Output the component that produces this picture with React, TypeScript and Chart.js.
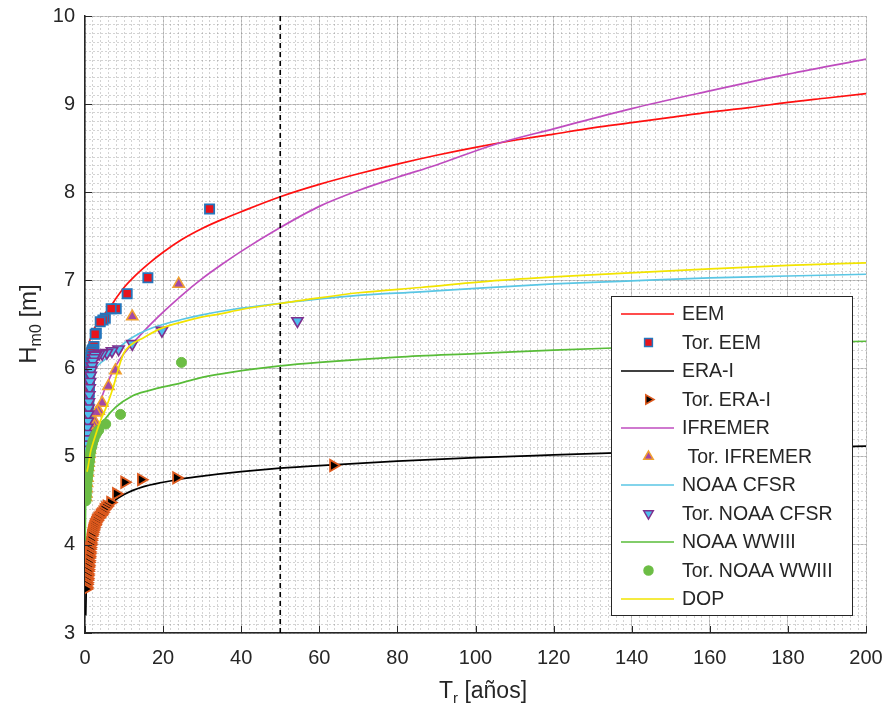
import React, { useEffect, useRef } from 'react';
import { Chart, registerables } from 'chart.js';

Chart.register(...registerables);

// ---------- tick labels ----------
const xTicks = [0, 20, 40, 60, 80, 100, 120, 140, 160, 180, 200];
const yTicks = [3, 4, 5, 6, 7, 8, 9, 10];
const xMinorStep = 2;
const yMinorStep = 0.1;
const markT = 50;

// ---------- EEM ----------
const eemLineT = [0.6, 1, 1.5, 2, 3, 4, 5, 6.5, 8, 10, 13, 16, 20, 25, 30, 35, 40, 50, 60, 70, 80, 90, 100, 110, 120, 130, 140, 150, 160, 170, 180, 190, 200];
const eemLineH = [6.0, 6.27, 6.35, 6.42, 6.5, 6.56, 6.62, 6.7, 6.8, 6.92, 7.06, 7.18, 7.32, 7.47, 7.59, 7.69, 7.78, 7.95, 8.09, 8.21, 8.32, 8.42, 8.51, 8.59, 8.66, 8.73, 8.79, 8.85, 8.91, 8.96, 9.02, 9.07, 9.12];
const eemPtsT = [31.9, 16.1, 10.8, 8.0, 6.7, 5.2, 4.6, 3.9, 2.9, 2.6, 2.3, 2.1, 1.9, 1.8, 1.7, 1.6, 1.5, 1.4, 1.35, 1.3, 1.2, 1.15, 1.1, 1.05, 1.0, 0.95, 0.9, 0.85, 0.8, 0.75, 0.7, 0.65, 0.6, 0.55, 0.5, 0.45];
const eemPtsH = [7.81, 7.03, 6.85, 6.68, 6.68, 6.57, 6.55, 6.53, 6.40, 6.39, 6.25, 6.22, 6.21, 6.2, 6.18, 6.15, 6.12, 6.08, 6.03, 5.98, 5.92, 5.85, 5.8, 5.74, 5.68, 5.62, 5.57, 5.5, 5.45, 5.4, 5.35, 5.3, 5.25, 5.2, 5.15, 5.1];

// ---------- ERA-I ----------
const eraLineT = [0.2, 0.3, 0.5, 0.8, 1.2, 2, 3, 4, 5, 7, 10, 15, 20, 25, 30, 40, 50, 60, 80, 100, 120, 140, 160, 180, 200];
const eraLineH = [3.2, 3.45, 3.65, 3.82, 3.96, 4.12, 4.24, 4.32, 4.38, 4.48, 4.57, 4.66, 4.71, 4.75, 4.78, 4.83, 4.87, 4.9, 4.95, 4.99, 5.02, 5.05, 5.08, 5.1, 5.12];
const eraPtsT = [63.6, 23.4, 14.4, 10.1, 8.0, 6.5, 5.6, 5.2, 4.8, 4.5, 4.2, 4.0, 3.8, 3.5, 3.2, 3.0, 2.8, 2.6, 2.45, 2.3, 2.15, 2.0, 1.9, 1.8, 1.7, 1.6, 1.5, 1.45, 1.35, 1.3, 1.2, 1.15, 1.1, 1.05, 1.0, 0.95, 0.9, 0.85, 0.8, 0.75, 0.7, 0.65, 0.6, 0.55, 0.5, 0.45, 0.4, 0.35, 0.3, 0.25];
const eraPtsH = [4.9, 4.76, 4.74, 4.71, 4.58, 4.48, 4.44, 4.42, 4.4, 4.37, 4.35, 4.34, 4.33, 4.31, 4.3, 4.28, 4.27, 4.25, 4.23, 4.22, 4.2, 4.18, 4.16, 4.14, 4.12, 4.1, 4.07, 4.05, 4.02, 4.0, 3.97, 3.95, 3.92, 3.9, 3.87, 3.85, 3.82, 3.8, 3.77, 3.75, 3.72, 3.7, 3.67, 3.65, 3.62, 3.6, 3.57, 3.55, 3.52, 3.5];

// ---------- IFREMER ----------
const ifrLineT = [0.3, 0.5, 1, 2, 3, 4, 5, 6.4, 8, 10, 15, 20, 25, 30, 35, 40, 50, 60, 70, 80, 90, 104.7, 120, 140, 160, 180, 200];
const ifrLineH = [4.98, 5.08, 5.2, 5.38, 5.52, 5.64, 5.76, 5.9, 6.04, 6.17, 6.42, 6.64, 6.84, 7.02, 7.18, 7.33, 7.6, 7.84, 8.02, 8.17, 8.31, 8.54, 8.72, 8.95, 9.15, 9.34, 9.51];
const ifrPtsT = [24.0, 12.1, 7.8, 6.0, 4.4, 3.5, 2.9, 2.6, 2.4, 2.2, 2.0, 1.8, 1.6, 1.4, 1.25, 1.1, 1.0, 0.9, 0.8, 0.7, 0.6, 0.5, 0.4, 0.3, 0.2];
const ifrPtsH = [6.96, 6.59, 5.98, 5.8, 5.61, 5.52, 5.5, 5.39, 5.35, 5.3, 5.26, 5.22, 5.18, 5.13, 5.08, 5.03, 4.98, 4.93, 4.88, 4.82, 4.76, 4.7, 4.64, 4.58, 4.54];

// ---------- NOAA CFSR ----------
const cfsLineT = [2, 3, 5, 7, 9, 12, 16, 20, 25, 30, 37.7, 50, 60, 70, 85.9, 100, 120, 137, 160, 180, 200];
const cfsLineH = [5.95, 6.02, 6.1, 6.17, 6.25, 6.35, 6.44, 6.5, 6.56, 6.61, 6.67, 6.74, 6.79, 6.83, 6.87, 6.91, 6.96, 6.99, 7.03, 7.05, 7.07];
const cfsPtsT = [54.4, 19.7, 12.1, 8.6, 6.9, 5.6, 4.4, 3.6, 2.9, 2.6, 2.3, 2.0, 1.8, 1.6, 1.45, 1.3, 1.2, 1.1, 1.0, 0.9, 0.8, 0.7, 0.6, 0.5, 0.4, 0.3, 0.2];
const cfsPtsH = [6.54, 6.43, 6.28, 6.22, 6.2, 6.18, 6.17, 6.17, 6.16, 6.15, 6.12, 6.08, 6.03, 5.98, 5.92, 5.85, 5.78, 5.7, 5.62, 5.55, 5.48, 5.4, 5.33, 5.26, 5.2, 5.14, 5.08];

// ---------- NOAA WWIII ----------
const wwLineT = [0.05, 0.2, 0.4, 0.7, 1.0, 1.8, 3.5, 5.2, 7.8, 12.1, 16.3, 24.9, 30, 37.7, 50, 60, 80, 100, 120, 140, 160, 180, 200];
const wwLineH = [4.05, 4.6, 4.85, 5.0, 5.07, 5.16, 5.31, 5.43, 5.56, 5.69, 5.75, 5.84, 5.9, 5.96, 6.03, 6.07, 6.13, 6.17, 6.21, 6.24, 6.27, 6.29, 6.31];
const wwPtsT = [24.7, 9.1, 5.3, 3.5, 3.0, 2.6, 2.3, 2.0, 1.8, 1.6, 1.45, 1.3, 1.2, 1.1, 1.0, 0.9, 0.8, 0.7, 0.6, 0.5, 0.45, 0.4, 0.35, 0.3, 0.25];
const wwPtsH = [6.07, 5.48, 5.37, 5.3, 5.27, 5.24, 5.2, 5.17, 5.13, 5.1, 5.06, 5.02, 4.98, 4.94, 4.9, 4.86, 4.82, 4.78, 4.74, 4.7, 4.66, 4.62, 4.58, 4.54, 4.5];

// ---------- DOP ----------
const dopLineT = [0.5, 0.85, 1.4, 2.1, 3.8, 5.6, 7.3, 8.5, 9.5, 10, 11.5, 15, 19.2, 25, 29.5, 34.6, 40, 50, 55, 70, 85.9, 106, 120, 137, 160, 180, 200];
const dopLineH = [4.83, 4.9, 5.05, 5.16, 5.39, 5.58, 5.8, 5.99, 6.13, 6.18, 6.26, 6.35, 6.45, 6.53, 6.58, 6.62, 6.67, 6.74, 6.77, 6.86, 6.92, 7.0, 7.04, 7.08, 7.13, 7.17, 7.2];

const FONT = "'Liberation Sans', Arial, Helvetica, sans-serif";
const TEXT = '#262626';

const C = {
  red: '#ff1010',
  sqFill: '#e8141c',
  sqEdge: '#2476bd',
  black: '#000000',
  orange: '#dd5a1e',
  purple: '#bf4cbf',
  purpleFill: '#a248a6',
  triEdge: '#f0a030',
  cyan: '#5ac6e4',
  cyanFill: '#4dbeee',
  cfsEdge: '#7e2f8e',
  green: '#58bc38',
  greenPt: '#6cbd45',
  yellow: '#f2e400',
};

type LegendItem = { label: string; kind: 'line' | 'rect' | 'triR' | 'triU' | 'triD' | 'circle'; stroke: string; fill?: string };
const legendItems: LegendItem[] = [
  { label: 'EEM', kind: 'line', stroke: C.red },
  { label: 'Tor. EEM', kind: 'rect', stroke: C.sqEdge, fill: C.sqFill },
  { label: 'ERA-I', kind: 'line', stroke: C.black },
  { label: 'Tor. ERA-I', kind: 'triR', stroke: C.orange, fill: '#000000' },
  { label: 'IFREMER', kind: 'line', stroke: C.purple },
  { label: ' Tor. IFREMER', kind: 'triU', stroke: C.triEdge, fill: C.purpleFill },
  { label: 'NOAA CFSR', kind: 'line', stroke: C.cyan },
  { label: 'Tor. NOAA CFSR', kind: 'triD', stroke: C.cfsEdge, fill: C.cyanFill },
  { label: 'NOAA WWIII', kind: 'line', stroke: C.green },
  { label: 'Tor. NOAA WWIII', kind: 'circle', stroke: C.greenPt, fill: C.greenPt },
  { label: 'DOP', kind: 'line', stroke: C.yellow },
];

const toXY = (t: number[], h: number[]) => t.map((v, i) => ({ x: v, y: h[i] }));

function lineDs(label: string, t: number[], h: number[], color: string, order: number) {
  return {
    label,
    data: toXY(t, h),
    showLine: true,
    borderColor: color,
    backgroundColor: color,
    borderWidth: 1.7,
    pointRadius: 0,
    fill: false,
    cubicInterpolationMode: 'monotone' as const,
    order,
  };
}

function ptsDs(label: string, t: number[], h: number[], style: string, rot: number, fill: string, edge: string, r: number, bw: number, order: number) {
  return {
    label,
    data: toXY(t, h),
    showLine: false,
    pointStyle: style,
    pointRotation: rot,
    pointRadius: r,
    pointBackgroundColor: fill,
    pointBorderColor: edge,
    pointBorderWidth: bw,
    backgroundColor: fill,
    borderColor: edge,
    order,
  };
}

function drawRich(ctx: CanvasRenderingContext2D, parts: { text: string; size: number; dy: number }[], cx: number, cy: number, rotate: boolean) {
  ctx.save();
  ctx.translate(cx, cy);
  if (rotate) ctx.rotate(-Math.PI / 2);
  let total = 0;
  const widths: number[] = [];
  parts.forEach((p) => {
    ctx.font = `${p.size}px ${FONT}`;
    const w = ctx.measureText(p.text).width;
    widths.push(w);
    total += w;
  });
  let x = -total / 2;
  ctx.fillStyle = TEXT;
  ctx.textAlign = 'left';
  ctx.textBaseline = 'alphabetic';
  parts.forEach((p, i) => {
    ctx.font = `${p.size}px ${FONT}`;
    ctx.fillText(p.text, x, p.dy);
    x += widths[i];
  });
  ctx.restore();
}

function drawMarker(ctx: CanvasRenderingContext2D, kind: string, x: number, y: number, r: number, fill: string, stroke: string) {
  ctx.beginPath();
  if (kind === 'rect') {
    const s = r * Math.SQRT1_2;
    ctx.rect(x - s, y - s, 2 * s, 2 * s);
  } else if (kind === 'circle') {
    ctx.arc(x, y, r, 0, Math.PI * 2);
  } else {
    const base = kind === 'triU' ? 0 : kind === 'triR' ? Math.PI / 2 : Math.PI;
    for (let k = 0; k < 3; k++) {
      const a = base + (k * 2 * Math.PI) / 3;
      const px = x + Math.sin(a) * r;
      const py = y - Math.cos(a) * r;
      if (k === 0) ctx.moveTo(px, py);
      else ctx.lineTo(px, py);
    }
    ctx.closePath();
  }
  ctx.fillStyle = fill;
  ctx.fill();
  ctx.lineWidth = 1.5;
  ctx.strokeStyle = stroke;
  ctx.stroke();
}

const overlayPlugin = {
  id: 'overlayPlugin',
  afterDraw(chart: any) {
    const { ctx, chartArea, scales } = chart;
    const xs = scales.x;
    const ys = scales.y;
    ctx.save();
    // inward tick marks
    ctx.strokeStyle = TEXT;
    ctx.lineWidth = 1;
    ctx.beginPath();
    xTicks.forEach((v) => {
      const px = Math.round(xs.getPixelForValue(v)) + 0.5;
      ctx.moveTo(px, chartArea.bottom);
      ctx.lineTo(px, chartArea.bottom - 7);
    });
    yTicks.forEach((v) => {
      const py = Math.round(ys.getPixelForValue(v)) + 0.5;
      ctx.moveTo(chartArea.left, py);
      ctx.lineTo(chartArea.left + 7, py);
    });
    ctx.stroke();

    // axis titles
    drawRich(ctx, [
      { text: 'T', size: 23, dy: 0 },
      { text: 'r', size: 15, dy: 5 },
      { text: ' [años]', size: 23, dy: 0 },
    ], 483, 698, false);
    drawRich(ctx, [
      { text: 'H', size: 24, dy: 0 },
      { text: 'm0', size: 16, dy: 5 },
      { text: ' [m]', size: 24, dy: 0 },
    ], 36, 324, true);

    // legend
    const bx = chartArea.right - 255;
    const by = chartArea.top + 280;
    const bw = 241;
    const bh = 319;
    ctx.fillStyle = '#ffffff';
    ctx.fillRect(bx, by, bw, bh);
    ctx.strokeStyle = TEXT;
    ctx.lineWidth = 1;
    ctx.strokeRect(Math.round(bx) + 0.5, Math.round(by) + 0.5, bw, bh);
    ctx.font = `19.5px ${FONT}`;
    ctx.textBaseline = 'middle';
    ctx.textAlign = 'left';
    legendItems.forEach((it, i) => {
      const cy = by + 18 + i * 28.5;
      if (it.kind === 'line') {
        ctx.strokeStyle = it.stroke;
        ctx.lineWidth = 1.7;
        ctx.beginPath();
        ctx.moveTo(bx + 10, cy);
        ctx.lineTo(bx + 63, cy);
        ctx.stroke();
      } else {
        drawMarker(ctx, it.kind, bx + 37.5, cy, it.kind === 'circle' ? 4.5 : 5.5, it.fill || it.stroke, it.stroke);
      }
      ctx.fillStyle = TEXT;
      ctx.fillText(it.label, bx + 71, cy + 1);
    });
    ctx.restore();
  },
};

const noPadX = (h: number) => (s: any) => { s.height = h; s.paddingLeft = 0; s.paddingRight = 0; };
const noPadY = (w: number) => (s: any) => { s.width = w; s.paddingTop = 0; s.paddingBottom = 0; };

export default function App() {
  const ref = useRef<HTMLCanvasElement | null>(null);

  useEffect(() => {
    if (!ref.current) return;
    const datasets: any[] = [
      lineDs('EEM', eemLineT, eemLineH, C.red, 22),
      ptsDs('Tor. EEM', eemPtsT, eemPtsH, 'rect', 0, C.sqFill, C.sqEdge, 6.5, 1.8, 21),
      lineDs('ERA-I', eraLineT, eraLineH, C.black, 20),
      ptsDs('Tor. ERA-I', eraPtsT, eraPtsH, 'triangle', 90, '#000000', C.orange, 6.5, 1.8, 19),
      lineDs('IFREMER', ifrLineT, ifrLineH, C.purple, 18),
      ptsDs(' Tor. IFREMER', ifrPtsT, ifrPtsH, 'triangle', 0, C.purpleFill, C.triEdge, 6.5, 1.6, 17),
      lineDs('NOAA CFSR', cfsLineT, cfsLineH, C.cyan, 16),
      ptsDs('Tor. NOAA CFSR', cfsPtsT, cfsPtsH, 'triangle', 180, C.cyanFill, C.cfsEdge, 6.5, 1.6, 15),
      lineDs('NOAA WWIII', wwLineT, wwLineH, C.green, 14),
      ptsDs('Tor. NOAA WWIII', wwPtsT, wwPtsH, 'circle', 0, C.greenPt, C.greenPt, 5, 1, 13),
      lineDs('DOP', dopLineT, dopLineH, C.yellow, 12),
      {
        label: 'Tr = 50',
        data: [{ x: markT, y: yTicks[0] }, { x: markT, y: yTicks[yTicks.length - 1] }],
        showLine: true,
        borderColor: '#000000',
        borderWidth: 1.6,
        borderDash: [5, 4],
        pointRadius: 0,
        order: 1,
      },
    ];

    const chart = new Chart(ref.current, {
      type: 'scatter',
      data: { datasets },
      options: {
        animation: false,
        responsive: true,
        maintainAspectRatio: false,
        layout: { padding: { top: 16, right: 24, left: 0, bottom: 0 } },
        plugins: { legend: { display: false }, tooltip: { enabled: false } },
        scales: {
          xMinor: {
            type: 'linear',
            position: 'bottom',
            min: xTicks[0],
            max: xTicks[xTicks.length - 1],
            ticks: { display: false, stepSize: xMinorStep, autoSkip: false },
            grid: { color: 'rgba(110,110,110,0.3)', lineWidth: 1, drawTicks: false },
            border: { display: false, dash: [2, 2] },
            afterFit: noPadX(0),
          },
          yMinor: {
            type: 'linear',
            position: 'left',
            min: yTicks[0],
            max: yTicks[yTicks.length - 1],
            ticks: { display: false, stepSize: yMinorStep, autoSkip: false },
            grid: { color: 'rgba(110,110,110,0.3)', lineWidth: 1, drawTicks: false },
            border: { display: false, dash: [2, 2] },
            afterFit: noPadY(0),
          },
          x: {
            type: 'linear',
            position: 'bottom',
            min: xTicks[0],
            max: xTicks[xTicks.length - 1],
            ticks: { stepSize: 20, color: TEXT, font: { family: FONT, size: 20 }, padding: 13, maxRotation: 0, autoSkip: false },
            grid: { color: 'rgba(120,120,120,0.38)', lineWidth: 1, drawTicks: false },
            border: { display: true, color: TEXT, width: 1.5 },
            afterFit: noPadX(77),
          },
          y: {
            type: 'linear',
            position: 'left',
            min: yTicks[0],
            max: yTicks[yTicks.length - 1],
            ticks: { stepSize: 1, color: TEXT, font: { family: FONT, size: 20 }, padding: 10, autoSkip: false },
            grid: { color: 'rgba(120,120,120,0.38)', lineWidth: 1, drawTicks: false },
            border: { display: true, color: TEXT, width: 1.5 },
            afterFit: noPadY(85),
          },
        },
      } as any,
      plugins: [overlayPlugin],
    });
    return () => chart.destroy();
  }, []);

  return (
    <div style={{ position: 'absolute', left: 0, top: 0, width: 890, height: 710, background: '#ffffff' }}>
      <canvas ref={ref} />
    </div>
  );
}
